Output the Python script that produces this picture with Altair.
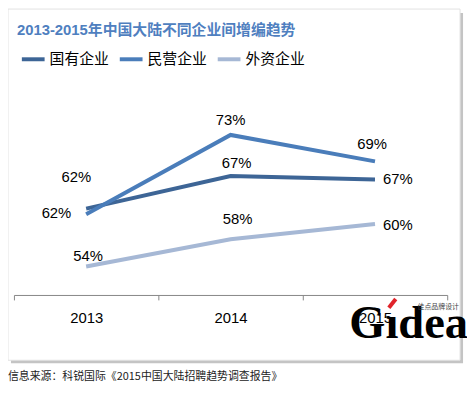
import altair as alt
import pandas as pd

years = ["2013", "2014", "2015"]
series_names = ["国有企业", "民营企业", "外资企业"]
soe = [62.4, 67.1, 66.6]
private = [61.6, 73.0, 69.2]
foreign = [54.1, 58.0, 60.2]
colors = ["#3D6596", "#4A7DBA", "#A6B8D5"]

title_text = "2013-2015年中国大陆不同企业间增编趋势"
source_text = "信息来源：科锐国际《2015中国大陆招聘趋势调查报告》"
mark_text_big = "Gıdea"
mark_text_small = "佳点品牌设计"

rows = []
for name, vals in zip(series_names, [soe, private, foreign]):
    for yr, v in zip(years, vals):
        rows.append({"year": yr, "series": name, "value": v})
df = pd.DataFrame(rows)
one = pd.DataFrame({"a": [0]})

W, H = 438, 211

x_enc = alt.X(
    "year:N",
    scale=alt.Scale(type="band", domain=years, paddingInner=0, paddingOuter=0),
    axis=alt.Axis(
        title=None, labelAngle=0, tickBand="extent", domainColor="#868686",
        tickColor="#868686", tickSize=5, labelFontSize=15, labelFont="Liberation Sans",
        labelColor="black", labelPadding=11, zindex=1, grid=False,
    ),
)
y_enc = alt.Y("value:Q", scale=alt.Scale(domain=[50, 80]), axis=None)

shadow = alt.Chart(one).mark_rect(fill="#c4c4c4").encode(
    x=alt.value(-3), x2=alt.value(454), y=alt.value(-74), y2=alt.value(280)
)
box = alt.Chart(one).mark_rect(fill="white", stroke="#e2e2e2", strokeWidth=1).encode(
    x=alt.value(-6), x2=alt.value(451), y=alt.value(-78), y2=alt.value(277)
)

lines = alt.Chart(df).mark_line(strokeWidth=4).encode(
    x=x_enc,
    y=y_enc,
    color=alt.Color(
        "series:N",
        scale=alt.Scale(domain=series_names, range=colors),
        legend=alt.Legend(
            title=None, orient="none", legendX=6, legendY=-41, direction="horizontal",
            symbolType="stroke", symbolSize=529, symbolStrokeWidth=4,
            labelFontSize=15, labelFont="Noto Sans CJK SC", labelColor="black",
            labelOffset=3, columnPadding=2, padding=0, zindex=1,
        ),
    ),
    detail="series:N",
)


def label(series, year, dx, dy):
    return (
        alt.Chart(df)
        .transform_filter((alt.datum.series == series) & (alt.datum.year == year))
        .transform_calculate(lbl="format(round(datum.value) / 100, '.0%')")
        .mark_text(dx=dx, dy=dy, fontSize=15, font="Liberation Sans", color="black",
                   align="center", baseline="middle")
        .encode(x=x_enc, y=y_enc, text="lbl:N")
    )


labels = [
    label("国有企业", "2013", -30, 4),
    label("民营企业", "2013", -10, -38),
    label("民营企业", "2014", 0, -15),
    label("国有企业", "2014", 6, -13),
    label("民营企业", "2015", -3, -18),
    label("国有企业", "2015", 23, 0),
    label("外资企业", "2013", 2, -10),
    label("外资企业", "2014", 7, -20),
    label("外资企业", "2015", 23, 1),
]

title = alt.Chart(pd.DataFrame({"t": [title_text]})).mark_text(
    align="left", baseline="alphabetic", fontSize=15, fontWeight="bold",
    font="Liberation Sans, Noto Sans CJK SC", color="#4F7FBF",
).encode(x=alt.value(3), y=alt.value(-52), text="t:N")

source = alt.Chart(pd.DataFrame({"t": [source_text]})).mark_text(
    align="left", baseline="middle", fontSize=11, font="Noto Sans CJK SC", color="#222222",
).encode(x=alt.value(-6), y=alt.value(294), text="t:N")

wm_big = alt.Chart(pd.DataFrame({"t": [mark_text_big]})).mark_text(
    align="left", baseline="alphabetic", fontSize=47, fontWeight="bold",
    font="Liberation Serif", color="black",
).encode(x=alt.value(339), y=alt.value(255), text="t:N")

wm_accent = alt.Chart(one).mark_rule(color="#E0242B", strokeWidth=4).encode(
    x=alt.value(379), y=alt.value(224), x2=alt.value(386), y2=alt.value(215)
)

wm_small = alt.Chart(pd.DataFrame({"t": [mark_text_small]})).mark_text(
    align="left", baseline="middle", fontSize=7, font="Noto Sans CJK SC", color="#444444",
).encode(x=alt.value(408), y=alt.value(223), text="t:N")

chart = alt.layer(shadow, box, lines, *labels, title, source, wm_big, wm_accent, wm_small).properties(
    width=W, height=H, autosize="none",
    padding={"left": 6, "top": 77, "right": 20, "bottom": 95},
).configure_view(stroke=None)

chart.save("out.html", embed_options={"renderer": "svg", "actions": False})
